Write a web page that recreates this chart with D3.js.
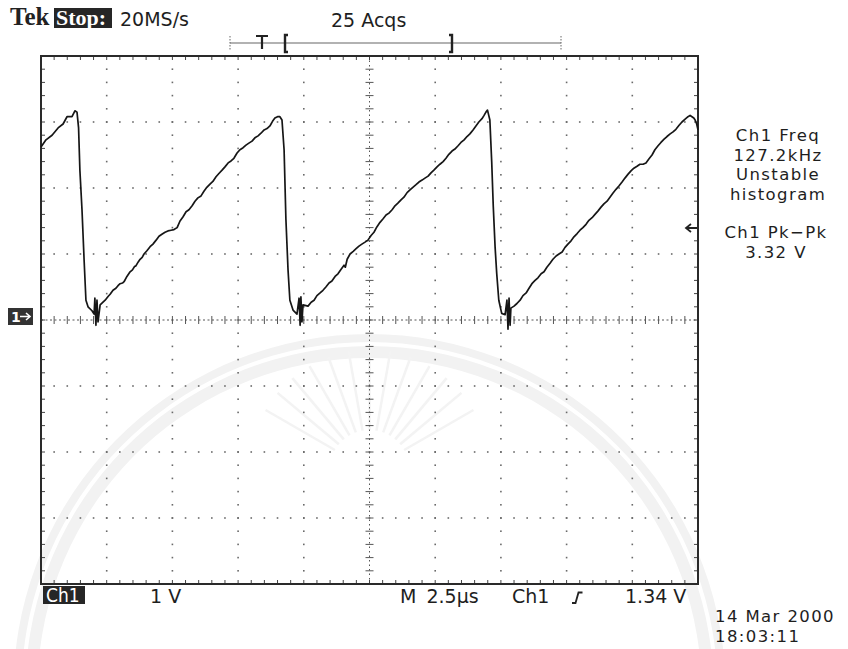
<!DOCTYPE html>
<html>
<head>
<meta charset="utf-8">
<script src="https://cdn.jsdelivr.net/npm/d3@7"></script>
<style>
  html, body { margin: 0; padding: 0; background: #fff; }
  svg { display: block; }
  .ro { font-family: "DejaVu Sans", "Noto Sans", sans-serif; font-size: 19px; fill: #1e1e1e; }
  .ro-s { font-family: "DejaVu Sans", "Noto Sans", sans-serif; font-size: 16.5px; letter-spacing: 1.4px; fill: #1e1e1e; }
</style>
</head>
<body>
<svg id="scope" width="848" height="649"></svg>
<script>
// Channel 1 capture: sawtooth, 1 V/div, 2.5 µs/div, ground marker at centre.
const timeUs = [
  0.00, 0.19, 0.42, 0.65, 0.84, 0.99, 1.18, 1.29, 1.37, 1.43, 1.48, 1.56, 1.64, 1.71, 1.79, 1.94, 2.02, 2.05, 2.09, 2.13, 2.17, 2.25,
  2.44, 2.56, 2.63, 2.74, 2.85, 2.93, 3.01, 3.10, 3.16, 3.27, 3.39, 3.48, 3.56, 3.61, 3.70, 3.77, 3.85, 3.92, 4.03, 4.15, 4.26, 4.38,
  4.49, 4.60, 4.72, 4.83, 4.95, 5.06, 5.18, 5.29, 5.40, 5.52, 5.63, 5.75, 5.86, 5.97, 6.09, 6.20, 6.31, 6.43, 6.54, 6.66, 6.77, 6.89,
  7.00, 7.12, 7.23, 7.34, 7.46, 7.57, 7.69, 7.80, 7.91, 8.03, 8.14, 8.26, 8.37, 8.49, 8.60, 8.71, 8.81, 8.90, 9.00, 9.09, 9.17, 9.25,
  9.32, 9.40, 9.47, 9.59, 9.74, 9.82, 9.86, 9.89, 9.93, 9.97,
  10.16, 10.28, 10.39, 10.50, 10.62, 10.73, 10.84, 10.96, 11.07, 11.19, 11.30, 11.42, 11.53, 11.58, 11.65, 11.76, 11.88, 11.99, 12.10,
  12.21, 12.33, 12.44, 12.56, 12.67, 12.78, 12.90, 13.01, 13.13, 13.24, 13.36, 13.47, 13.58, 13.70, 13.81, 13.93, 14.04, 14.15, 14.27,
  14.38, 14.50, 14.61, 14.73, 14.84, 14.95, 15.07, 15.18, 15.30, 15.41, 15.52, 15.64, 15.75, 15.87, 15.98, 16.10, 16.21, 16.32, 16.44,
  16.55, 16.66, 16.78, 16.86, 16.93, 16.99, 17.08, 17.15, 17.21, 17.28, 17.34, 17.42, 17.53, 17.66, 17.73, 17.77, 17.81, 17.85, 17.88,
  18.00, 18.11, 18.23, 18.34, 18.46, 18.57, 18.68, 18.80, 18.91, 19.03, 19.14, 19.25, 19.37, 19.48, 19.60, 19.71, 19.83, 19.94, 20.05,
  20.17, 20.28, 20.40, 20.51, 20.62, 20.74, 20.85, 20.97, 21.08, 21.19, 21.31, 21.42, 21.54, 21.65, 21.76, 21.88, 21.99, 22.11, 22.22,
  22.34, 22.45, 22.56, 22.68, 22.79, 22.91, 23.02, 23.13, 23.25, 23.36, 23.48, 23.59, 23.71, 23.82, 23.94, 24.05, 24.16, 24.28, 24.39,
  24.50, 24.62, 24.70, 24.77, 24.84, 24.89, 24.95, 25.00
];
const volts = [
  2.62, 2.73, 2.80, 2.91, 2.97, 3.08, 3.08, 3.17, 3.15, 2.91, 2.27, 1.67, 0.91, 0.30, 0.20, 0.14, 0.09, 0.33, -0.08, 0.30, -0.03, 0.23,
  0.30, 0.36, 0.39, 0.45, 0.48, 0.52, 0.55, 0.56, 0.58, 0.66, 0.73, 0.76, 0.81, 0.82, 0.88, 0.92, 0.95, 1.00, 1.05, 1.11, 1.15, 1.21,
  1.27, 1.30, 1.33, 1.35, 1.36, 1.37, 1.40, 1.50, 1.56, 1.64, 1.67, 1.73, 1.80, 1.85, 1.88, 1.95, 2.01, 2.06, 2.10, 2.17, 2.22, 2.27,
  2.32, 2.38, 2.41, 2.45, 2.53, 2.58, 2.61, 2.65, 2.68, 2.71, 2.76, 2.79, 2.83, 2.88, 2.90, 2.94, 3.01, 3.06, 3.08, 3.08, 3.03, 2.58,
  1.52, 0.76, 0.30, 0.15, 0.09, 0.33, -0.08, 0.35, -0.03, 0.23,
  0.21, 0.27, 0.30, 0.37, 0.41, 0.45, 0.50, 0.56, 0.59, 0.66, 0.70, 0.77, 0.83, 0.80, 0.92, 1.00, 1.04, 1.08, 1.12,
  1.15, 1.18, 1.21, 1.28, 1.33, 1.41, 1.48, 1.53, 1.59, 1.62, 1.67, 1.73, 1.77, 1.82, 1.86, 1.93, 1.97, 2.01, 2.05,
  2.09, 2.12, 2.15, 2.18, 2.23, 2.27, 2.32, 2.36, 2.40, 2.45, 2.51, 2.56, 2.59, 2.64, 2.69, 2.73, 2.78, 2.82, 2.88,
  2.94, 3.00, 3.05, 3.10, 3.15, 3.18, 3.03, 2.40, 1.72, 1.10, 0.71, 0.30, 0.10, 0.08, 0.30, -0.14, 0.33, -0.08, 0.18,
  0.21, 0.25, 0.30, 0.37, 0.41, 0.48, 0.55, 0.60, 0.64, 0.70, 0.73, 0.80, 0.86, 0.92, 0.97, 1.00, 1.03, 1.10, 1.15,
  1.20, 1.26, 1.31, 1.36, 1.40, 1.45, 1.51, 1.55, 1.60, 1.65, 1.71, 1.76, 1.80, 1.86, 1.92, 1.98, 2.03, 2.09, 2.15,
  2.21, 2.26, 2.30, 2.33, 2.36, 2.36, 2.38, 2.44, 2.50, 2.58, 2.64, 2.69, 2.74, 2.78, 2.82, 2.85, 2.89, 2.95, 3.00,
  3.04, 3.08, 3.10, 3.08, 3.06, 3.03, 2.97, 2.88
];

// Screen settings
const timeDomain = [0, 25];      // 10 divisions × 2.5 µs
const voltDomain = [-4, 4];      // 8 divisions × 1 V
const timePerDiv = 2.5;
const voltPerDiv = 1;
const minorPerDiv = 5;

// Readout texts
const headerTexts = ["20MS/s", "25 Acqs"];
const measureTexts = ["Ch1 Freq", "127.2kHz", "Unstable", "histogram"];
const measure2Texts = ["Ch1 Pk\u2212Pk", "3.32 V"];
const footerTexts = ["1 V", "M 2.5\u00b5s", "Ch1", "1.34 V"];
const stampTexts = ["14 Mar 2000", "18:03:11"];

const svg = d3.select("#scope");
const plot = { left: 41, top: 56, right: 698, bottom: 584 };

const x = d3.scaleLinear().domain(timeDomain).range([plot.left, plot.right]);
const y = d3.scaleLinear().domain(voltDomain).range([plot.bottom, plot.top]);

const majorT = d3.range(timeDomain[0], timeDomain[1] + 1e-9, timePerDiv);
const minorT = d3.range(timeDomain[0], timeDomain[1] + 1e-9, timePerDiv / minorPerDiv);
const majorV = d3.range(voltDomain[0], voltDomain[1] + 1e-9, voltPerDiv);
const minorV = d3.range(voltDomain[0], voltDomain[1] + 1e-9, voltPerDiv / minorPerDiv);
const tMid = (timeDomain[0] + timeDomain[1]) / 2;
const inner = (arr, lo, hi) => arr.filter(v => v > lo + 1e-6 && v < hi - 1e-6);

// Faint background seal
const seal = svg.append("g");
const sc = [x(tMid), 690];
[[338, 12], [352, 8]].forEach(([r, w]) => {
  seal.append("path")
    .attr("d", d3.arc()({ innerRadius: r - w / 2, outerRadius: r + w / 2, startAngle: -Math.PI / 2.1, endAngle: Math.PI / 2.1 }))
    .attr("transform", `translate(${sc[0]},${sc[1]})`)
    .attr("fill", "#f2f2f2");
});
d3.range(-60, 61, 10).forEach(a => {
  const rad = a * Math.PI / 180;
  seal.append("line")
    .attr("x1", sc[0] + 40 * Math.sin(rad)).attr("y1", sc[1] - 220 - 40 * Math.cos(rad))
    .attr("x2", sc[0] + 120 * Math.sin(rad)).attr("y2", sc[1] - 220 - 120 * Math.cos(rad))
    .attr("stroke", "#f3f3f3").attr("stroke-width", 2.5);
});

// Graticule dots
const grid = svg.append("g").attr("fill", "#6a6a6a");
inner(majorT, ...timeDomain).filter(t => Math.abs(t - tMid) > 1e-6).forEach(t => {
  minorV.forEach(v => grid.append("rect").attr("x", x(t) - 0.8).attr("y", y(v) - 0.8).attr("width", 1.6).attr("height", 1.6));
});
inner(majorV, ...voltDomain).filter(v => Math.abs(v) > 1e-6).forEach(v => {
  minorT.forEach(t => grid.append("rect").attr("x", x(t) - 0.8).attr("y", y(v) - 0.8).attr("width", 1.6).attr("height", 1.6));
});

// Centre cross with minor ticks
const cross = svg.append("g").attr("stroke", "#555").attr("stroke-width", 1);
cross.append("line").attr("x1", x(tMid)).attr("x2", x(tMid)).attr("y1", plot.top).attr("y2", plot.bottom)
  .attr("stroke-dasharray", "1.5,3");
cross.append("line").attr("x1", plot.left).attr("x2", plot.right).attr("y1", y(0)).attr("y2", y(0))
  .attr("stroke-dasharray", "2,2.5");
minorV.forEach(v => cross.append("line").attr("x1", x(tMid) - 4).attr("x2", x(tMid) + 4).attr("y1", y(v)).attr("y2", y(v)));
minorT.forEach(t => cross.append("line").attr("x1", x(t)).attr("x2", x(t)).attr("y1", y(0) - 4).attr("y2", y(0) + 4));

// Frame edge ticks
const edge = svg.append("g").attr("stroke", "#444").attr("stroke-width", 1);
minorT.forEach(t => {
  edge.append("line").attr("x1", x(t)).attr("x2", x(t)).attr("y1", plot.top).attr("y2", plot.top + 4);
  edge.append("line").attr("x1", x(t)).attr("x2", x(t)).attr("y1", plot.bottom).attr("y2", plot.bottom - 4);
});
minorV.forEach(v => {
  edge.append("line").attr("x1", plot.left).attr("x2", plot.left + 4).attr("y1", y(v)).attr("y2", y(v));
  edge.append("line").attr("x1", plot.right).attr("x2", plot.right - 4).attr("y1", y(v)).attr("y2", y(v));
});

// Frame
svg.append("rect")
  .attr("x", plot.left).attr("y", plot.top)
  .attr("width", plot.right - plot.left).attr("height", plot.bottom - plot.top)
  .attr("fill", "none").attr("stroke", "#2a2a2a").attr("stroke-width", 2);

// Trace
const trace = d3.line().x((d, i) => x(timeUs[i])).y((d, i) => y(volts[i]));
svg.append("path")
  .datum(volts)
  .attr("d", trace)
  .attr("fill", "none")
  .attr("stroke", "#161616")
  .attr("stroke-width", 1.7)
  .attr("stroke-linejoin", "round");

// Header: brand, run state, sample rate, acquisitions
svg.append("text").attr("x", 10).attr("y", 25)
  .attr("font-family", "'Liberation Serif', serif").attr("font-weight", "bold").attr("font-size", 25)
  .attr("fill", "#222").text("Tek");
svg.append("rect").attr("x", 54).attr("y", 8).attr("width", 58).attr("height", 20).attr("fill", "#262626");
svg.append("text").attr("x", 56).attr("y", 25)
  .attr("font-family", "'Liberation Serif', serif").attr("font-weight", "bold").attr("font-size", 22)
  .attr("fill", "#fff").text("Stop:");
svg.append("text").attr("class", "ro").attr("x", 120).attr("y", 26).text(headerTexts[0]);
svg.append("text").attr("class", "ro").attr("x", 331).attr("y", 27).text(headerTexts[1]);

// Record / trigger position bar
const bar = svg.append("g").attr("stroke", "#666");
bar.append("line").attr("x1", 230).attr("x2", 561).attr("y1", 43).attr("y2", 43).attr("stroke-width", 1.2);
[230, 561].forEach(px => bar.append("line").attr("x1", px).attr("x2", px).attr("y1", 36).attr("y2", 51)
  .attr("stroke-dasharray", "1.5,1.5"));
bar.append("path").attr("d", "M256,36 H268 M262,36 V49").attr("stroke", "#222").attr("stroke-width", 2.2).attr("fill", "none");
bar.append("path").attr("d", "M288,35 H285 V52 H288").attr("stroke", "#222").attr("stroke-width", 2.4).attr("fill", "none");
bar.append("path").attr("d", "M449,35 H452 V52 H449").attr("stroke", "#222").attr("stroke-width", 2.4).attr("fill", "none");

// Ground reference marker
svg.append("rect").attr("x", 8).attr("y", 308).attr("width", 25).attr("height", 17).attr("fill", "#333");
svg.append("text").attr("x", 11).attr("y", 322)
  .attr("font-family", "'DejaVu Sans', sans-serif").attr("font-size", 14).attr("font-weight", "bold")
  .attr("fill", "#fff").text("1");
svg.append("path").attr("d", "M20,316.5 H30 M26,313 L30,316.5 L26,320").attr("stroke", "#fff").attr("stroke-width", 1.6).attr("fill", "none");

// Measurement readouts
const mx = 778;
measureTexts.forEach((s, i) => svg.append("text").attr("class", "ro-s").attr("text-anchor", "middle")
  .attr("x", mx).attr("y", 141 + i * 19.5).text(s));
measure2Texts.forEach((s, i) => svg.append("text").attr("class", "ro-s").attr("text-anchor", "middle")
  .attr("x", mx - 2).attr("y", 238 + i * 20).text(s));
svg.append("path").attr("d", "M697,228 H686 M691,224 L686,228 L691,232")
  .attr("stroke", "#222").attr("stroke-width", 1.8).attr("fill", "none");

// Footer: channel scale, timebase, trigger
svg.append("rect").attr("x", 43).attr("y", 586).attr("width", 42).attr("height", 18).attr("fill", "#262626");
svg.append("text").attr("x", 46).attr("y", 602)
  .attr("font-family", "'DejaVu Sans Condensed', 'DejaVu Sans', sans-serif").attr("font-size", 19)
  .attr("fill", "#fff").text("Ch1");
svg.append("text").attr("class", "ro").attr("x", 150).attr("y", 603).text(footerTexts[0]);
svg.append("text").attr("class", "ro").attr("x", 400).attr("y", 603).attr("word-spacing", 4).text(footerTexts[1]);
svg.append("text").attr("class", "ro").attr("x", 512).attr("y", 603).text(footerTexts[2]);
svg.append("path").attr("d", "M572,603 H575.5 L578.5,592.5 H582.5").attr("stroke", "#222").attr("stroke-width", 1.8).attr("fill", "none");
svg.append("text").attr("class", "ro").attr("x", 625).attr("y", 603).text(footerTexts[3]);

// Date / time stamp
stampTexts.forEach((s, i) => svg.append("text").attr("class", "ro-s")
  .attr("x", 715).attr("y", 622 + i * 19.5).text(s));
</script>
</body>
</html>
